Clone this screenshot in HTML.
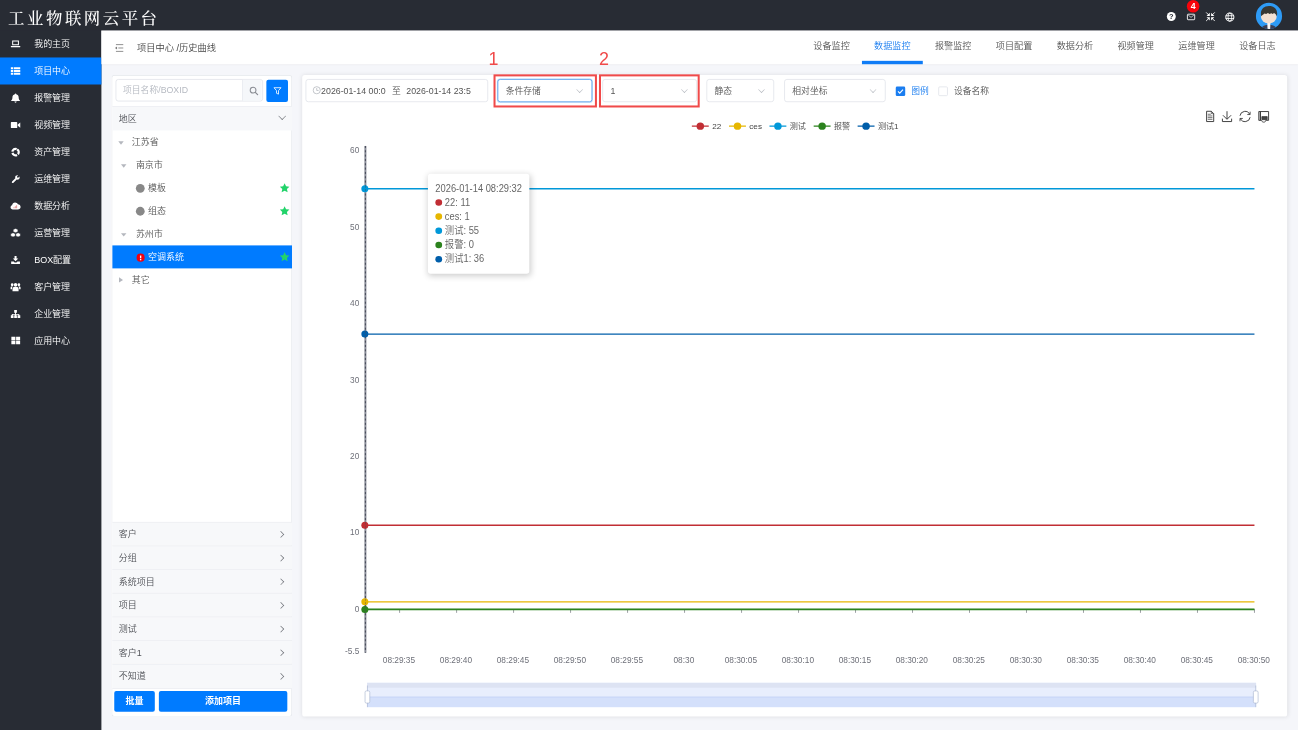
<!DOCTYPE html>
<html lang="zh-CN">
<head>
<meta charset="utf-8">
<title>工业物联网云平台</title>
<style>
*{box-sizing:border-box;margin:0;padding:0}
html,body{width:1298px;height:730px;overflow:hidden;background:#f5f6fa}
body{font-family:"Liberation Sans","Noto Sans CJK SC",sans-serif;}
#root{font-weight:350;position:absolute;left:0;top:0;width:1920px;height:1080px;transform:scale(0.67604);transform-origin:0 0;background:#f5f6fa;font-size:14px;color:#555;overflow:hidden}
#root div,#root span,#root svg,#root i{position:absolute}
#hdr{left:0;top:0;width:1920px;height:45px;background:#282c34;z-index:2}
#title{left:12px;top:4.500px;height:44px;line-height:44px;color:#fff;font-family:"Liberation Serif","Noto Serif CJK SC",serif;font-size:24.300px;letter-spacing:3.700px;font-weight:500;white-space:nowrap}
#side{left:0;top:0;width:150px;height:1080px;background:#282c34}
.mi{left:0;width:150px;height:40px;line-height:40px;color:#fff;font-size:13.3px;white-space:nowrap}
.mi span{left:50.500px;top:0}
.mi.on{background:#007bff}
.mi svg{left:15.300px;top:12px;width:16px;height:16px;fill:#fff;stroke:none}
#crumb{left:150px;top:45px;width:1770px;height:50px;background:#fff;box-shadow:0 1px 2px rgba(0,0,0,.04)}
.bc{left:52.500px;top:.600px;line-height:50px;font-size:13.700px;color:#444;white-space:nowrap}
.tab{top:0;width:90px;height:50px;line-height:45px;text-align:center;font-size:13.5px;color:#555;white-space:nowrap}
.tab.on{color:#1a7df0;border-bottom:5.300px solid #0f7cf6}
#lpbg{left:165.200px;top:110.500px;width:267px;height:949px;background:#fff;box-shadow:inset 0 0 0 1px #e4e7ec;border-radius:4px}
#lp{left:166px;top:110.500px;width:266px;height:949px;border-radius:4px;overflow:hidden}
#cp{left:447px;top:111px;width:1457px;height:948.500px;background:#fff;border-radius:4px;box-shadow:0 0 6px rgba(0,0,0,.10)}
.sec{left:0;width:266px;height:35px;line-height:35px;background:#f7f8fa;border-top:1px solid #eaecf0;font-size:13.3px;color:#505258}
.sec span{left:9.800px;top:0;white-space:nowrap}
.sec i{right:13.500px;top:14.500px;width:6.800px;height:6.800px;border-right:1.300px solid #6c6f75;border-top:1.300px solid #6c6f75;transform:rotate(45deg)}
.tr{left:0;width:266px;height:34px;line-height:34px;font-size:13.3px;color:#555;white-space:nowrap}
.tr .car{top:16.300px;width:0;height:0;border-left:4px solid transparent;border-right:4px solid transparent;border-top:5.500px solid #b4b7be}
.tr .carr{top:13px;width:0;height:0;border-top:4.5px solid transparent;border-bottom:4.5px solid transparent;border-left:6px solid #b4b7be}
.tr .dot{top:10.500px;width:13px;height:13px;border-radius:50%;background:#888}
.tr .tx{top:.700px}
.tr svg.star{right:3.500px;top:9px;width:16px;height:16px;fill:#22d36a}
.sel{top:117px;height:33.500px;border:1px solid #dcdfe6;border-radius:4px;background:#fff;line-height:31px;font-size:13px;color:#555;white-space:nowrap}
.sel span{left:11px;top:.800px}
.sel i{right:14px;top:10.500px;width:6.800px;height:6.800px;border-right:1.200px solid #b4b8bf;border-bottom:1.200px solid #b4b8bf;transform:rotate(45deg)}
.red{border:3.800px solid #f04a4a;top:109.500px;height:49px}
.num{color:#f04a4a;font-size:26.500px;line-height:26px;top:74px;font-family:"Liberation Sans",sans-serif}
.btn{background:#007bff;color:#fff;border-radius:3px;text-align:center;font-size:13.3px;font-weight:bold;height:31.500px;line-height:32px;top:911px}
svg text{font-family:"Liberation Sans","Noto Sans CJK SC",sans-serif}
.tip{left:633px;top:257px;width:150px;height:148px;background:#fff;border-radius:4px;box-shadow:1px 2px 10px rgba(0,0,0,.2);font-size:13.800px;color:#666;line-height:21px}
.tip div{left:11px;white-space:nowrap;height:21px;transform:scaleY(1.080);transform-origin:0 55%}
.tip i{left:0;top:6px;width:10px;height:9.300px;border-radius:50%}
.tip span{left:14px;top:0}
</style>
</head>
<body>
<div id="root">
<div id="hdr"><div id="title">工业物联网云平台</div>
<svg style="left:1720px;top:0;width:200px;height:44px" viewBox="1720 0 200 44">
<circle cx="1732.600" cy="24.400" r="6.600" fill="#fff"/>
<text x="1732.600" y="28.300" font-size="11" font-weight="bold" text-anchor="middle" fill="#282c34">?</text>
<rect x="1756.400" y="21" width="10.800" height="8.200" rx="1" fill="none" stroke="#fff" stroke-width="1.300"/>
<path d="M1757.600 22.300l4.200 3.400 4.200-3.400" fill="none" stroke="#fff" stroke-width="1"/>
<circle cx="1764.900" cy="9.300" r="9.300" fill="#f8040c"/>
<text x="1764.900" y="14" font-size="13" font-weight="bold" text-anchor="middle" fill="#fff">4</text>
<path d="M1784.1 18.3L1788.5 22.7M1784.1 31.1L1788.5 26.7M1796.9 18.3L1792.5 22.7M1796.9 31.1L1792.5 26.7" stroke="#fff" stroke-width="1.300" fill="none"/>
<path d="M1789.5 23.7L1784.7 23.7L1789.5 18.9zM1789.5 25.7L1784.7 25.7L1789.5 30.5zM1791.5 23.7L1796.3 23.7L1791.5 18.9zM1791.5 25.7L1796.3 25.7L1791.5 30.5z" fill="#fff"/>
<circle cx="1819.200" cy="25.300" r="6" fill="none" stroke="#fff" stroke-width="1.500"/>
<ellipse cx="1819.200" cy="25.300" rx="2.700" ry="6" fill="none" stroke="#fff" stroke-width="1.200"/>
<path d="M1813 23.300h12.400M1813 27.300h12.400" stroke="#fff" stroke-width="1.300"/>
<defs><clipPath id="av"><circle cx="1877.100" cy="23.600" r="19.350"/></clipPath></defs>
<circle cx="1877.100" cy="23.600" r="19.350" fill="#2e9bf6"/>
<g clip-path="url(#av)">
<path d="M1865 44c1-5 5.500-7.300 12-7.300s11 2.300 12 7.300z" fill="#3a3f58"/>
<path d="M1874.600 34h4.600l-.4 10h-3.800z" fill="#f6f6f6"/>
<ellipse cx="1876.800" cy="25" rx="11.600" ry="9.400" fill="#f3e0d2"/>
<path d="M1865.600 24c-2.200-9 3-15.200 11.400-15.200 8.700 0 13.900 6.200 11.700 15.200-.6-1.800-1.400-3-2.400-3.800l-1.800-1-1.800 1.500-2.200-1.200-2.600 1.300-2.400-1.500-2.600 1.500-2.400-1-1.400 1.200c-1.600.8-2.600 1.800-3.500 3z" fill="#383834"/>
</g>
</svg>

</div>
<div id="side">
<div class="mi" style="top:45px"><svg viewBox="0 0 16 16"><path d="M3 3h10v7H3z M4.5 4.5v4h7v-4z M1 11h14v1.2c0 .5-.4.8-.8.8H1.800c-.4 0-.8-.3-.8-.8z" fill-rule="evenodd"/></svg><span>我的主页</span></div>
<div class="mi on" style="top:85px"><svg viewBox="0 0 16 16"><path d="M1 2.500h3.500v3H1z M5.500 2.500H15v3H5.500z M1 6.500h3.500v3H1z M5.500 6.500H15v3H5.500z M1 10.500h3.500v3H1z M5.500 10.500H15v3H5.500z"/></svg><span>项目中心</span></div>
<div class="mi" style="top:125px"><svg viewBox="0 0 16 16"><path d="M8 1.200c.6 0 1 .4 1 1v.2c2.200.5 3.600 2.300 3.600 4.400 0 2.400.6 3.700 1.900 4.700v1H1.500v-1c1.300-1 1.900-2.300 1.900-4.700 0-2.100 1.400-3.900 3.600-4.400v-.2c0-.6.400-1 1-1z M6.400 13.300h3.200c0 .9-.7 1.600-1.600 1.600s-1.600-.7-1.600-1.600z"/></svg><span>报警管理</span></div>
<div class="mi" style="top:165px"><svg viewBox="0 0 16 16"><path d="M1 4.500c0-.6.400-1 1-1h7.500c.6 0 1 .4 1 1v7c0 .6-.4 1-1 1H2c-.6 0-1-.4-1-1z M11.300 7l3.700-2.800v7.600L11.300 9z"/></svg><span>视频管理</span></div>
<div class="mi" style="top:205px"><svg viewBox="0 0 16 16"><circle cx="8" cy="8" r="4.700" fill="none" stroke="#fff" stroke-width="3.300" stroke-dasharray="8.240 1.600" transform="rotate(-60 8 8)"/></svg><span>资产管理</span></div>
<div class="mi" style="top:245px"><svg viewBox="0 0 16 16"><path transform="translate(1.500 1.300) scale(.84)" d="M14.500 3.200l-2.200 2.200-1.700-.3-.3-1.700 2.200-2.200c-1.500-.5-3.200-.2-4.300.9-1.100 1.100-1.400 2.700-.9 4.100L1.600 11.900c-.7.700-.7 1.800 0 2.500s1.800.7 2.500 0l5.700-5.700c1.400.5 3 .2 4.100-.9 1.100-1.100 1.400-2.800.6-4.600z"/></svg><span>运维管理</span></div>
<div class="mi" style="top:285px"><svg viewBox="0 0 16 16"><path d="M4 13c-1.900 0-3.500-1.400-3.500-3.300 0-1.500 1-2.800 2.400-3.200C3.100 4.300 5 2.500 7.300 2.500c1.900 0 3.500 1.100 4.200 2.800 2.200.1 4 1.800 4 3.900 0 2.100-1.800 3.800-4 3.800z"/><path d="M5 11V9.500h1.300V11z M7 11V8h1.300v3z M9 11V6.500h1.300V11z" fill="#d88"/></svg><span>数据分析</span></div>
<div class="mi" style="top:325px"><svg viewBox="0 0 16 16"><path d="M8 1l3.500 1.500v3.300L8 7.300 4.500 5.800V2.500z M4.300 7.200l3.400 1.500V12l-3.400 1.600L.8 12V8.700z M11.700 7.200l3.500 1.500V12l-3.500 1.600L8.300 12V8.700z" stroke="#282c34" stroke-width=".8"/></svg><span>运营管理</span></div>
<div class="mi" style="top:365px"><svg viewBox="0 0 16 16"><path d="M6.500 1.500h3V5.500h2.500L8 9.500 4 5.500h2.500z M1.500 9.800h3.700l1.500 1.500h2.600l1.500-1.500h3.700v3.700H1.500z"/></svg><span>BOX配置</span></div>
<div class="mi" style="top:405px"><svg viewBox="0 0 16 16"><path transform="translate(0 -1.200) scale(1 1.080)" d="M8 2.500a2.600 2.600 0 1 1 0 5.200a2.600 2.600 0 1 1 0-5.200z M3 3a2 2 0 1 1 0 4a2 2 0 1 1 0-4z M13 3a2 2 0 1 1 0 4a2 2 0 1 1 0-4z M3.500 14v-3.500c0-1.600 1.200-2.500 2.500-2.500h4c1.300 0 2.500.9 2.500 2.500V14z M.5 11V9c0-1 .8-1.700 1.700-1.700h1.600c-.8.700-1.100 1.700-1.100 2.700v1z M15.500 11V9c0-1-.8-1.700-1.700-1.700h-1.600c.8.700 1.100 1.700 1.100 2.700v1z"/></svg><span>客户管理</span></div>
<div class="mi" style="top:445px"><svg viewBox="0 0 16 16"><path d="M6 1.500h4v4H8.700v1.800h4.800v2.200H15v4h-4v-4h1.300V8.500H8.700v1H10v4H6v-4h1.300v-1H3.700v1H5v4H1v-4h1.500V7.300h4.800V5.500H6z"/></svg><span>企业管理</span></div>
<div class="mi" style="top:485px"><svg viewBox="0 0 16 16"><path transform="translate(0.300 -1.300)" d="M1.500 2.500h6v5h-6z M8.500 2.500h6v5h-6z M1.500 8.500h6v5h-6z M8.500 8.500h6v5h-6z"/></svg><span>应用中心</span></div>
</div>
<div id="crumb"><svg style="left:19px;top:18.500px;width:14px;height:14px" viewBox="0 0 14 14"><path d="M2.500 2h11M6 7h7.500M2.500 12h11" stroke="#777" stroke-width="1.200" fill="none"/><path d="M1 7l3.200-2.200v4.400z" fill="#777"/></svg><div class="bc">项目中心 /历史曲线</div>
<div class="tab" style="left:1035px">设备监控</div>
<div class="tab on" style="left:1125px">数据监控</div>
<div class="tab" style="left:1215px">报警监控</div>
<div class="tab" style="left:1305px">项目配置</div>
<div class="tab" style="left:1395px">数据分析</div>
<div class="tab" style="left:1485px">视频管理</div>
<div class="tab" style="left:1575px">运维管理</div>
<div class="tab" style="left:1665px">设备日志</div>
</div>
<div id="lpbg"></div>
<div id="lp">
<div style="left:5px;top:6px;width:218px;height:33px;border:1px solid #dcdfe6;border-radius:4px;background:#fff"></div>
<div style="left:16px;top:6px;line-height:33px;font-size:13px;color:#b6bac2;white-space:nowrap">项目名称/BOXID</div>
<div style="left:192px;top:7px;width:29px;height:31px;background:#f5f7fa;border-left:1px solid #dcdfe6;border-radius:0 3px 3px 0"></div>
<svg style="left:202px;top:16.200px;width:15px;height:15px" viewBox="0 0 16 16"><circle cx="6.800" cy="6.800" r="4.500" fill="none" stroke="#8b8e95" stroke-width="1.700"/><path d="M10.300 10.300l3.600 3.600" stroke="#8b8e95" stroke-width="2" stroke-linecap="round"/></svg>
<div style="left:227.500px;top:7px;width:32px;height:33px;background:#007bff;border-radius:3px"></div>
<svg style="left:237.500px;top:17px;width:13px;height:13px" viewBox="0 0 15 15"><path d="M1.500 2h12l-4.300 5v6l-3.400-1.500V7z" fill="none" stroke="#fff" stroke-width="1.400" stroke-linejoin="round"/></svg>
<div class="sec" style="top:46px;height:36px;line-height:36px"><span>地区</span><i style="transform:rotate(135deg);top:10.500px;right:11px;width:7.500px;height:7.500px"></i></div>
<div class="tr" style="top:82px"><i class="car" style="left:8.500px"></i><span class="tx" style="left:29px">江苏省</span></div>
<div class="tr" style="top:116px"><i class="car" style="left:13px"></i><span class="tx" style="left:35px">南京市</span></div>
<div class="tr" style="top:150px"><i class="dot" style="left:35px;top:11.300px;width:13.400px;height:13.400px"></i><span class="tx" style="left:53px">模板</span><svg class="star" viewBox="0 0 14 14"><path d="M7 .8l1.900 4 4.300.5-3.200 3 .9 4.300L7 10.500 3.100 12.600l.9-4.300-3.200-3 4.300-.5z"/></svg></div>
<div class="tr" style="top:184px"><i class="dot" style="left:35px;top:11.300px;width:13.400px;height:13.400px"></i><span class="tx" style="left:53px">组态</span><svg class="star" viewBox="0 0 14 14"><path d="M7 .8l1.900 4 4.300.5-3.200 3 .9 4.300L7 10.500 3.100 12.600l.9-4.300-3.200-3 4.300-.5z"/></svg></div>
<div class="tr" style="top:218px"><i class="car" style="left:13px"></i><span class="tx" style="left:35px">苏州市</span></div>
<div class="tr" style="top:252px;background:#007bff;color:#fff"><i class="dot" style="left:36px;top:12.800px;width:11.600px;height:11.600px;background:#f00010"></i><i style="left:40.800px;top:15.200px;width:2px;height:4.500px;background:#fff"></i><i style="left:40.800px;top:20.500px;width:2px;height:2px;background:#fff"></i><span class="tx" style="left:53px">空调系统</span><svg class="star" viewBox="0 0 14 14"><path d="M7 .8l1.900 4 4.300.5-3.200 3 .9 4.300L7 10.500 3.100 12.600l.9-4.300-3.200-3 4.300-.5z"/></svg></div>
<div class="tr" style="top:286px"><i class="carr" style="left:10px"></i><span class="tx" style="left:29px">其它</span></div>
<div class="sec" style="top:661px"><span>客户</span><i></i></div>
<div class="sec" style="top:696px"><span>分组</span><i></i></div>
<div class="sec" style="top:731px"><span>系统项目</span><i></i></div>
<div class="sec" style="top:766px"><span>项目</span><i></i></div>
<div class="sec" style="top:801px"><span>测试</span><i></i></div>
<div class="sec" style="top:836px"><span>客户1</span><i></i></div>
<div class="sec" style="top:871px;height:37.500px;border-bottom:1px solid #eaecf0"><span>不知道</span><i></i></div>
<div class="btn" style="left:3px;width:60px">批量</div>
<div class="btn" style="left:69px;width:190px">添加项目</div>
</div>

<div id="cp"></div>
<div class="sel" style="left:452px;width:270px"><svg style="left:9px;top:9px;width:13px;height:13px" viewBox="0 0 13 13"><circle cx="6.500" cy="6.500" r="5.300" fill="none" stroke="#b0b3ba" stroke-width="1.100"/><path d="M6.500 3.200v3.600h2.800" fill="none" stroke="#b0b3ba" stroke-width="1.100"/></svg><span style="left:22px">2026-01-14 00:0</span><span style="left:127px">至</span><span style="left:148px">2026-01-14 23:5</span></div>
<div class="sel" style="left:736px;width:140px;border-color:#3a8ee6;box-shadow:0 0 0 1px rgba(58,142,230,.35)"><span>条件存储</span><i></i></div>
<div class="sel" style="left:891px;width:140px"><span>1</span><i></i></div>
<div class="sel" style="left:1045px;width:100px"><span>静态</span><i></i></div>
<div class="sel" style="left:1160px;width:150px"><span>相对坐标</span><i></i></div>
<div class="red" style="left:730px;width:152.500px"></div>
<div class="red" style="left:885.500px;width:149px"></div>
<div class="num" style="left:722.500px">1</div>
<div class="num" style="left:886px">2</div>
<div style="left:1325px;top:127.500px;width:14px;height:14px;background:#1a7df0;border-radius:2px"></div>
<svg style="left:1325px;top:127.500px;width:14px;height:14px" viewBox="0 0 14 14"><path d="M3.300 7.200l2.600 2.600 4.800-5.300" fill="none" stroke="#fff" stroke-width="1.600"/></svg>
<div style="left:1348px;top:117.500px;line-height:33px;font-size:13px;color:#1a7df0;white-space:nowrap">图例</div>
<div style="left:1388px;top:127.500px;width:14px;height:14px;background:#fff;border:1px solid #dcdfe6;border-radius:2px"></div>
<div style="left:1411px;top:117.500px;line-height:33px;font-size:13px;color:#555;white-space:nowrap">设备名称</div>
<svg style="left:447px;top:150px;width:1457px;height:910px" viewBox="447 150 1457 910">
<g fill="none" stroke="#333" stroke-width="1.350" stroke-linejoin="round">
<path d="M1784.800 164.600h7l3.500 3.500v11.700h-10.500z"/><path d="M1786.500 169h4.500M1786.500 171.500h7M1786.500 174h7M1786.500 176.500h7" stroke-width="1"/><path d="M1791.800 164.600v3.500h3.500" stroke-width="1"/>
<path d="M1815 164.500v11.500M1809 170.500l6 6 6-6M1808.200 175.500v4.300h13.600v-4.300"/>
<path d="M1834.2 171.2A7.6 7.6 0 0 1 1848.6 169.1M1849.2 173.4A7.6 7.6 0 0 1 1834.8 175.5"/><path d="M1849.2 169.4v-4.200M1849.2 169.4h-4.200M1834.2 175.2v4.200M1834.2 175.2h4.200" stroke-width="1.200"/>
<path d="M1862 165h14.500v13h-3.500M1865.500 178h-3.500v-13"/><path d="M1864.300 165v13" stroke-width="1.800"/><path d="M1866.500 172.500h8v4.500h-8z" fill="#444" stroke-width="1"/><path d="M1866 177.500c0 2 1.500 3.200 3.300 3.200s3.300-1.200 3.300-3.200" stroke-width="1.200"/>
</g>
<path d="M1023.4 186.600h25" stroke="#c12e34" stroke-width="2"/><circle cx="1035.9" cy="186.600" r="5.500" fill="#c12e34"/>
<text x="1053.4" y="190.800" font-size="12" fill="#444">22</text>
<path d="M1078.4 186.600h25" stroke="#e6b600" stroke-width="2"/><circle cx="1090.9" cy="186.600" r="5.500" fill="#e6b600"/>
<text x="1108.4" y="190.800" font-size="12" fill="#444">ces</text>
<path d="M1138.2 186.600h25" stroke="#0098d9" stroke-width="2"/><circle cx="1150.7" cy="186.600" r="5.500" fill="#0098d9"/>
<text x="1168.2" y="190.800" font-size="12" fill="#444">测试</text>
<path d="M1203.6 186.600h25" stroke="#2b821d" stroke-width="2"/><circle cx="1216.1" cy="186.600" r="5.500" fill="#2b821d"/>
<text x="1233.6" y="190.800" font-size="12" fill="#444">报警</text>
<path d="M1268.6 186.600h25" stroke="#005eaa" stroke-width="2"/><circle cx="1281.1" cy="186.600" r="5.500" fill="#005eaa"/>
<text x="1298.6" y="190.800" font-size="12" fill="#444">测试1</text>
<path d="M540.5 901.5H1855.6" stroke="#6e7079" stroke-width="1"/>
<path d="M591.1 901.5v5M675.4 901.5v5M759.7 901.5v5M844.0 901.5v5M928.3 901.5v5M1012.6 901.5v5M1096.9 901.5v5M1181.2 901.5v5M1265.5 901.5v5M1349.8 901.5v5M1434.1 901.5v5M1518.4 901.5v5M1602.7 901.5v5M1687.0 901.5v5M1771.3 901.5v5M1855.6 901.5v5" stroke="#6e7079" stroke-width="1"/>
<text x="590.1" y="981" font-size="12.300" fill="#6e7079" text-anchor="middle">08:29:35</text>
<text x="674.4" y="981" font-size="12.300" fill="#6e7079" text-anchor="middle">08:29:40</text>
<text x="758.7" y="981" font-size="12.300" fill="#6e7079" text-anchor="middle">08:29:45</text>
<text x="843.0" y="981" font-size="12.300" fill="#6e7079" text-anchor="middle">08:29:50</text>
<text x="927.3" y="981" font-size="12.300" fill="#6e7079" text-anchor="middle">08:29:55</text>
<text x="1011.6" y="981" font-size="12.300" fill="#6e7079" text-anchor="middle">08:30</text>
<text x="1095.9" y="981" font-size="12.300" fill="#6e7079" text-anchor="middle">08:30:05</text>
<text x="1180.2" y="981" font-size="12.300" fill="#6e7079" text-anchor="middle">08:30:10</text>
<text x="1264.5" y="981" font-size="12.300" fill="#6e7079" text-anchor="middle">08:30:15</text>
<text x="1348.8" y="981" font-size="12.300" fill="#6e7079" text-anchor="middle">08:30:20</text>
<text x="1433.1" y="981" font-size="12.300" fill="#6e7079" text-anchor="middle">08:30:25</text>
<text x="1517.4" y="981" font-size="12.300" fill="#6e7079" text-anchor="middle">08:30:30</text>
<text x="1601.7" y="981" font-size="12.300" fill="#6e7079" text-anchor="middle">08:30:35</text>
<text x="1686.0" y="981" font-size="12.300" fill="#6e7079" text-anchor="middle">08:30:40</text>
<text x="1770.3" y="981" font-size="12.300" fill="#6e7079" text-anchor="middle">08:30:45</text>
<text x="1854.6" y="981" font-size="12.300" fill="#6e7079" text-anchor="middle">08:30:50</text>
<text x="531.500" y="226.4" font-size="12.300" fill="#6e7079" text-anchor="end">60</text>
<text x="531.500" y="339.6" font-size="12.300" fill="#6e7079" text-anchor="end">50</text>
<text x="531.500" y="452.7" font-size="12.300" fill="#6e7079" text-anchor="end">40</text>
<text x="531.500" y="565.8" font-size="12.300" fill="#6e7079" text-anchor="end">30</text>
<text x="531.500" y="679.0" font-size="12.300" fill="#6e7079" text-anchor="end">20</text>
<text x="531.500" y="792.1" font-size="12.300" fill="#6e7079" text-anchor="end">10</text>
<text x="531.500" y="905.3" font-size="12.300" fill="#6e7079" text-anchor="end">0</text>
<text x="531.500" y="967.5" font-size="12.300" fill="#6e7079" text-anchor="end">-5.5</text>
<path d="M540.5 777.0H1855.6" stroke="#c12e34" stroke-width="2"/>
<path d="M540.5 890.2H1855.6" stroke="#e6b600" stroke-width="2"/>
<path d="M540.5 279.2H1855.6" stroke="#0098d9" stroke-width="2"/>
<path d="M540.5 901.5H1855.6" stroke="#2b821d" stroke-width="2.600"/>
<path d="M540.5 494.2H1855.6" stroke="#005eaa" stroke-width="2"/>
<path d="M540.5 215.9V965.7" stroke="#8a8d99" stroke-width="3"/>
<path d="M540.5 215.9V965.7" stroke="#3c3f4b" stroke-width="1.300" stroke-dasharray="3 3.400"/>
<circle cx="539.7" cy="777.0" r="5.200" fill="#c12e34"/>
<path d="M540.5 772.5v9" stroke="#4a4d58" stroke-width="1" stroke-dasharray="3 2" opacity=".7"/>
<circle cx="539.7" cy="890.2" r="5.200" fill="#e6b600"/>
<path d="M540.5 885.7v9" stroke="#4a4d58" stroke-width="1" stroke-dasharray="3 2" opacity=".7"/>
<circle cx="539.7" cy="279.2" r="5.200" fill="#0098d9"/>
<path d="M540.5 274.7v9" stroke="#4a4d58" stroke-width="1" stroke-dasharray="3 2" opacity=".7"/>
<circle cx="539.7" cy="901.5" r="5.200" fill="#2b821d"/>
<path d="M540.5 897.0v9" stroke="#4a4d58" stroke-width="1" stroke-dasharray="3 2" opacity=".7"/>
<circle cx="539.7" cy="494.2" r="5.200" fill="#005eaa"/>
<path d="M540.5 489.7v9" stroke="#4a4d58" stroke-width="1" stroke-dasharray="3 2" opacity=".7"/>
<rect x="543" y="1010" width="1315" height="36" fill="#e8eefd"/>
<rect x="543" y="1010" width="1315" height="7.300" fill="#dde3f3"/>
<rect x="543" y="1031" width="1315" height="15" fill="#d4e0fb"/>
<path d="M543 1031H1858" stroke="#b9c9f3" stroke-width="1"/>
<path d="M543.500 1014V1046M1857.500 1014V1046" stroke="#acb8d1" stroke-width="1"/>
<rect x="540" y="1022" width="7" height="18" rx="2" fill="#fff" stroke="#acb8d1" stroke-width="1"/>
<rect x="1854" y="1022" width="7" height="18" rx="2" fill="#fff" stroke="#acb8d1" stroke-width="1"/>
</svg>
<div class="tip"><div style="top:11px">2026-01-14 08:29:32</div><div style="top:32px"><i style="background:#c12e34"></i><span>22: 11</span></div><div style="top:53px"><i style="background:#e6b600"></i><span>ces: 1</span></div><div style="top:74px"><i style="background:#0098d9"></i><span>测试: 55</span></div><div style="top:95px"><i style="background:#2b821d"></i><span>报警: 0</span></div><div style="top:116px"><i style="background:#005eaa"></i><span>测试1: 36</span></div></div>
</div>
</body>
</html>
